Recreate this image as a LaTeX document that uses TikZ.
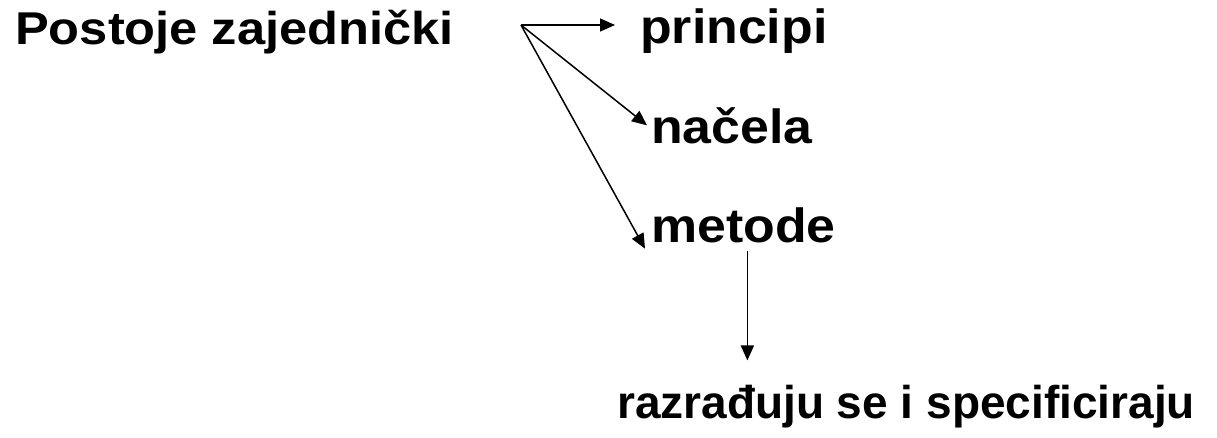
\documentclass[tikz,border=0pt]{standalone}
\usepackage{fontspec}
\setmainfont{Liberation Sans}
\newfontfamily\leadsans[FakeStretch=1.10]{Liberation Sans}
\newfontfamily\widesans[FakeStretch=1.08]{Liberation Sans}
\usetikzlibrary{arrows.meta, positioning}

\begin{document}
\begin{tikzpicture}[
        x=1pt, y=-1pt,
        term/.style={
            inner sep=0pt,
            anchor=base west,
            font=\widesans\fontsize{48}{54}\selectfont\bfseries
        },
        lead/.style={
            term,
            font=\leadsans\fontsize{46}{52}\selectfont\bfseries
        },
        note/.style={
            term,
            font=\fontsize{46}{52}\selectfont\bfseries
        },
        link/.style={
            line width=1.5pt,
            -{Triangle[length=15pt, width=13pt]}
        }
    ]
    \useasboundingbox (0,0) rectangle (1217,437);

    % Words
    \node[lead] (zaj) at (15,44) {Postoje zajednički};
    \coordinate (hub) at (521,25);
    \node[term] (princ) at (640,43) {principi};
    \node[term] (nacela) at (651,143) {načela};
    \node[term] (metode) at (651,242) {metode};
    \node[note] (razr) at (617,418) {razrađuju se i specificiraju};

    % Arrows out of the hub
    \draw[link] (hub) -- ([xshift=-25pt]princ.west |- hub);
    \draw[link] (hub) -- ([xshift=-4pt]nacela.west);
    \draw[link] (hub) -- ([xshift=-6pt, yshift=-6pt]metode.south west);

    % Arrow down to the last line
    \coordinate (drop) at ([yshift=24pt]razr.north);
    \coordinate (m0) at ([xshift=4pt, yshift=-8pt]metode.south);
    \draw[link] (m0) -- (m0 |- drop);

\end{tikzpicture}
\end{document}
